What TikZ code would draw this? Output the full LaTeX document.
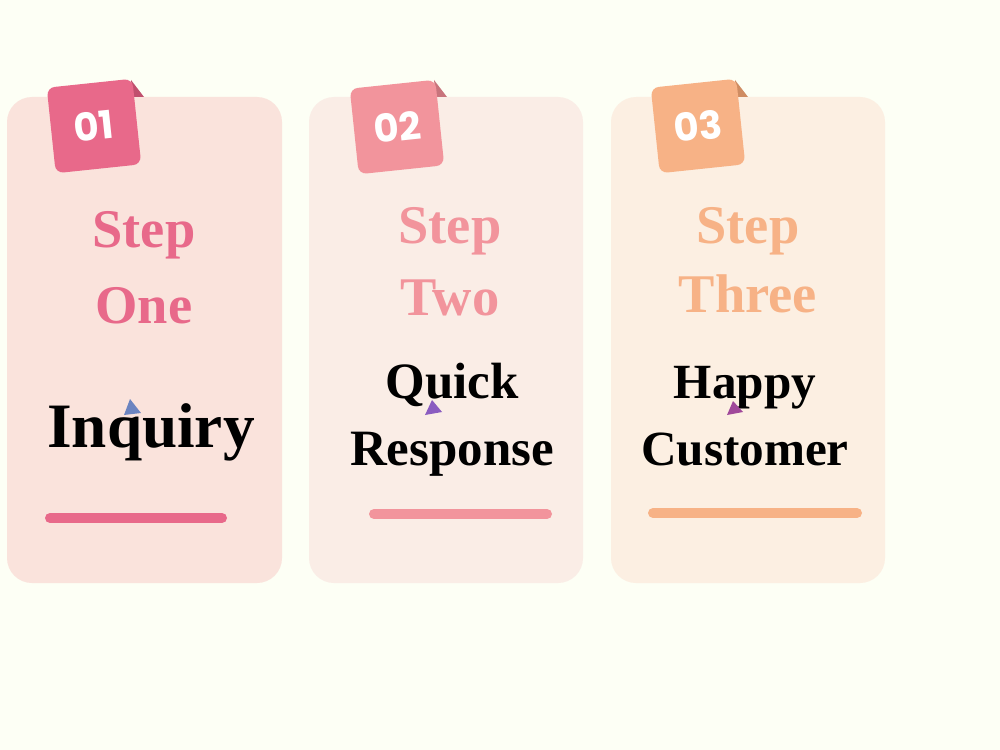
\documentclass[tikz,border=0pt]{standalone}
\usepackage{fontspec}
\setmainfont{Liberation Serif}
\newfontfamily\badgefont{Poppins}

\definecolor{bgcream}{HTML}{FDFFF5}
\definecolor{cardone}{HTML}{FAE3DC}
\definecolor{cardtwo}{HTML}{FAEDE6}
\definecolor{cardthree}{HTML}{FCEFE2}
\definecolor{pinkone}{HTML}{E8698A}
\definecolor{pinktwo}{HTML}{F2949C}
\definecolor{peachthree}{HTML}{F7B286}
\definecolor{foldone}{HTML}{C0506E}
\definecolor{foldtwo}{HTML}{C8747C}
\definecolor{foldthree}{HTML}{CF8C62}
\definecolor{cursorblue}{HTML}{6B84C0}
\definecolor{cursorpurple}{HTML}{8A5CC0}
\definecolor{cursormagenta}{HTML}{A0489A}

\tikzset{
  card/.style={rounded corners=0.5cm},
  badge/.style={minimum size=1.72cm, rounded corners=4.5pt, text=white,
    font=\badgefont\bfseries\fontsize{22}{26}\selectfont},
  steptext/.style={anchor=base, font=\bfseries\fontsize{31}{36}\selectfont},
  wordtext/.style={anchor=base, text=black, font=\bfseries\fontsize{29}{34}\selectfont},
  bar/.style={line width=0.2cm, line cap=round}
}

\begin{document}
\begin{tikzpicture}[x=0.02cm, y=-0.02cm, every node/.style={inner sep=0pt}]
  % background
  \fill[bgcream] (0,0) rectangle (1000,750);

  % card one
  \fill[cardone, card] (7,97) rectangle (282,583);
  \fill[foldone] (131,80) -- (144,97) -- (133,97) -- cycle;
  \node[badge, fill=pinkone, rotate=6] (badgeone) at (94,126) {01};
  \node[steptext, text=pinkone] (stepone) at (144,247) {Step};
  \node[steptext, text=pinkone] (numone) at (144,323) {One};
  \node[wordtext, font=\bfseries\fontsize{36}{40}\selectfont] (inquiry) at (151,447) {Inquiry};
  \fill[cursorblue] (130,399) -- (124,415) -- (141,413) -- cycle;
  \draw[bar, pinkone] (50,518) coordinate (barone-w) -- (222,518) coordinate (barone-e);

  % card two
  \fill[cardtwo, card] (309,97) rectangle (583,583);
  \fill[foldtwo] (434,80) -- (447,97) -- (436,97) -- cycle;
  \node[badge, fill=pinktwo, rotate=6] (badgetwo) at (397,127) {02};
  \node[steptext, text=pinktwo] (steptwo) at (450,243) {Step};
  \node[steptext, text=pinktwo] (numtwo) at (450,315) {Two};
  \node[wordtext] (quick) at (452,398) {Quick};
  \node[wordtext] (response) at (452,465) {Response};
  \fill[cursorpurple] (432,400) -- (425,415) -- (442,412) -- cycle;
  \draw[bar, pinktwo] (374,514) coordinate (bartwo-w) -- (547,514) coordinate (bartwo-e);

  % card three
  \fill[cardthree, card] (611,97) rectangle (885,583);
  \fill[foldthree] (735,80) -- (748,97) -- (737,97) -- cycle;
  \node[badge, fill=peachthree, rotate=6] (badgethree) at (698,126) {03};
  \node[steptext, text=peachthree] (stepthree) at (748,243) {Step};
  \node[steptext, text=peachthree] (numthree) at (748,312) {Three};
  \node[wordtext, font=\bfseries\fontsize{28}{33}\selectfont] (happy) at (745,398) {Happy};
  \node[wordtext, font=\bfseries\fontsize{28}{33}\selectfont] (customer) at (745,465) {Customer};
  \fill[cursormagenta] (733,401) -- (727,415) -- (743,412) -- cycle;
  \draw[bar, peachthree] (653,513) coordinate (barthree-w) -- (857,513) coordinate (barthree-e);
\end{tikzpicture}
\end{document}
